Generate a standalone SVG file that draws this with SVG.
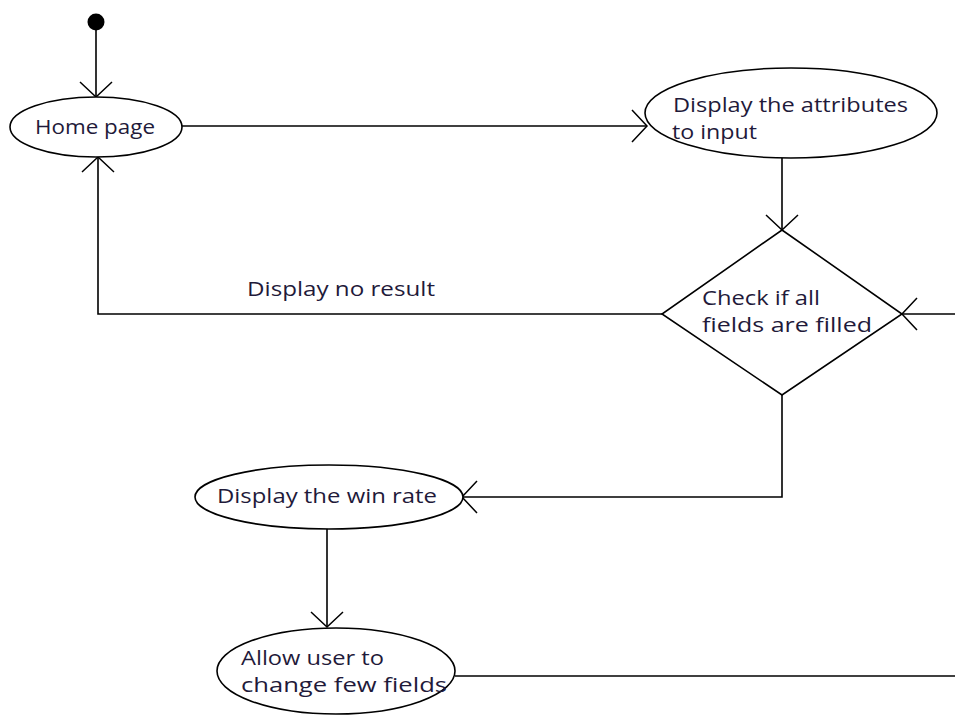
<svg xmlns="http://www.w3.org/2000/svg" width="955" height="716" viewBox="0 0 955 716">
<style>
.shape{fill:#fff;stroke:#000;stroke-width:1.6}
.line{fill:none;stroke:#000;stroke-width:1.6}
.lbl{font-family:"Open Sans","Liberation Sans",sans-serif;font-size:19.5px;fill:#1f1a3a}
</style>
<defs>
<marker id="arr" markerUnits="userSpaceOnUse" viewBox="-20 -20 24 40" markerWidth="24" markerHeight="40" refX="0" refY="0" orient="auto">
<path d="M-15,-16 L0,0 L-15,16" fill="none" stroke="#000" stroke-width="1.5"/>
</marker>
</defs>
<rect width="955" height="716" fill="#fff"/>
<g id="connectors">
<line class="line" x1="96" y1="28" x2="96" y2="97" marker-end="url(#arr)"/>
<line class="line" x1="182" y1="126" x2="647" y2="126" marker-end="url(#arr)"/>
<line class="line" x1="782" y1="158" x2="782" y2="230" marker-end="url(#arr)"/>
<polyline class="line" points="662,314 98,314 98,157" marker-end="url(#arr)"/>
<line class="line" x1="955" y1="314" x2="902" y2="314" marker-end="url(#arr)"/>
<polyline class="line" points="782,395 782,497 462,497" marker-end="url(#arr)"/>
<line class="line" x1="327" y1="529" x2="327" y2="627" marker-end="url(#arr)"/>
<line class="line" x1="455" y1="676" x2="955" y2="676"/>
<text class="lbl" x="247" y="296" textLength="188" lengthAdjust="spacingAndGlyphs">Display no result</text>
</g>
<g id="start">
<circle cx="96" cy="22" r="8.5" fill="#000"/>
</g>
<g id="home">
<ellipse class="shape" cx="96" cy="127" rx="86" ry="30"/>
<text class="lbl" x="35" y="134" textLength="120" lengthAdjust="spacingAndGlyphs">Home page</text>
</g>
<g id="attributes">
<ellipse class="shape" cx="791" cy="113" rx="146" ry="45"/>
<text class="lbl" x="673" y="112" textLength="235" lengthAdjust="spacingAndGlyphs">Display the attributes</text>
<text class="lbl" x="672" y="139" textLength="85" lengthAdjust="spacingAndGlyphs">to input</text>
</g>
<g id="check">
<polygon class="shape" points="782,230 902,314 782,395 662,314"/>
<text class="lbl" x="702" y="305" textLength="118" lengthAdjust="spacingAndGlyphs">Check if all</text>
<text class="lbl" x="702" y="332" textLength="170" lengthAdjust="spacingAndGlyphs">fields are filled</text>
</g>
<g id="winrate">
<ellipse class="shape" cx="329" cy="497" rx="134" ry="32"/>
<text class="lbl" x="217" y="503" textLength="220" lengthAdjust="spacingAndGlyphs">Display the win rate</text>
</g>
<g id="allow">
<ellipse class="shape" cx="336" cy="671" rx="119" ry="43"/>
<text class="lbl" x="241" y="665" textLength="143" lengthAdjust="spacingAndGlyphs">Allow user to</text>
<text class="lbl" x="241" y="692" textLength="206" lengthAdjust="spacingAndGlyphs">change few fields</text>
</g>
</svg>
